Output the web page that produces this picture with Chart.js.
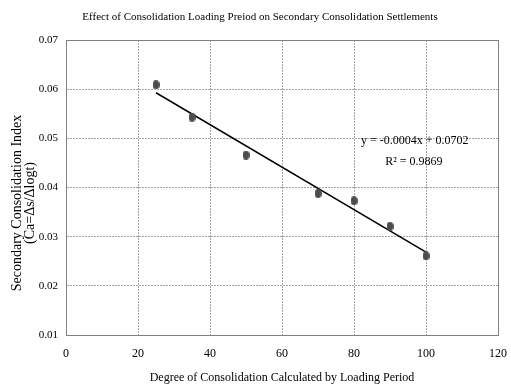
<!DOCTYPE html>
<html>
<head>
<meta charset="utf-8">
<script src="https://cdn.jsdelivr.net/npm/chart.js@4/dist/chart.umd.min.js"></script>
<style>
  html, body { margin: 0; padding: 0; background: #fff; }
  #wrap { width: 511px; height: 385px; }
</style>
</head>
<body>
<div id="wrap"><canvas id="settleChart"></canvas></div>
<script>
// degree of consolidation (%) and measured Ca
const degree = [25, 35, 50, 70, 80, 90, 100];
const caIndex = [0.0609, 0.0543, 0.0466, 0.0388, 0.0373, 0.0321, 0.0261];
const eqLines = ["y = -0.0004x + 0.0702", "R\u00b2 = 0.9869"];
const yTitle = ["Secondary Consolidation Index", "(Ca=\u0394s/\u0394logt)"];

const FONT = "'Liberation Serif', 'Times New Roman', serif";
const GRID = "#a6a6a6";

// least squares line through the measured points
function linearFit(xs, ys) {
    const n = xs.length;
    const mx = xs.reduce((a, b) => a + b, 0) / n;
    const my = ys.reduce((a, b) => a + b, 0) / n;
    let sxy = 0, sxx = 0;
    for (let i = 0; i < n; i++) {
        sxy += (xs[i] - mx) * (ys[i] - my);
        sxx += (xs[i] - mx) * (xs[i] - mx);
    }
    const slope = sxy / sxx;
    return { slope: slope, icpt: my - slope * mx };
}
const fit = linearFit(degree, caIndex);
const xMin = Math.min(...degree), xMax = Math.max(...degree);
const trend = [xMin, xMax].map((x) => ({ x: x, y: fit.icpt + fit.slope * x }));

// slightly tall oval marker
function ovalMarker(w, h, color) {
    const c = document.createElement("canvas");
    c.width = w;
    c.height = h;
    const g = c.getContext("2d");
    g.fillStyle = color;
    g.beginPath();
    g.ellipse(w / 2, h / 2, w / 2, h / 2, 0, 0, Math.PI * 2);
    g.fill();
    return c;
}
const marker = ovalMarker(7, 9, "#4d4d4d");

const framePlugin = {
    id: "frame",
    afterDraw(chart) {
        const { ctx, chartArea: a, scales } = chart;
        ctx.save();
        ctx.strokeStyle = "#808080";
        ctx.lineWidth = 1;
        ctx.strokeRect(a.left + 0.5, a.top + 0.5, a.right - a.left, a.bottom - a.top);

        // chart title
        ctx.fillStyle = "#000";
        ctx.font = "11px " + FONT;
        ctx.textAlign = "center";
        ctx.textBaseline = "middle";
        ctx.fillText("Effect of Consolidation Loading Preiod on Secondary Consolidation Settlements", 260, 17);

        // y axis title, two rotated lines
        ctx.save();
        ctx.translate(17, 203);
        ctx.rotate(-Math.PI / 2);
        ctx.font = "14px " + FONT;
        ctx.fillText(yTitle[0], 0, 0);
        ctx.fillText(yTitle[1], 0, 13);
        ctx.restore();

        // regression equation
        ctx.font = "12px " + FONT;
        const ex = scales.x.getPixelForValue(96.9);
        const ey = scales.y.getPixelForValue(0.0495);
        ctx.fillText(eqLines[0], ex, ey);
        ctx.fillText(eqLines[1], ex - 1, ey + 21);
        ctx.restore();
    }
};

const ctx = document.getElementById("settleChart");
new Chart(ctx, {
    type: "scatter",
    data: {
        datasets: [
            {
                label: "Ca",
                data: degree.map((d, i) => ({ x: d, y: caIndex[i] })),
                pointStyle: marker,
                pointRadius: 4,
                backgroundColor: "#4d4d4d",
            },
            {
                label: "Linear",
                type: "line",
                data: trend,
                borderColor: "#000",
                borderWidth: 1.5,
                pointRadius: 0,
                fill: false,
            },
        ],
    },
    options: {
        responsive: true,
        maintainAspectRatio: false,
        animation: false,
        layout: { padding: { top: 40, right: 13, left: 0, bottom: 0 } },
        scales: {
            x: {
                min: 0,
                max: 120,
                ticks: { stepSize: 20, color: "#000", font: { family: FONT, size: 12 }, padding: 12, maxRotation: 0 },
                grid: { color: GRID, drawTicks: false },
                border: { color: "#808080", dash: [2, 1] },
                title: {
                    display: true,
                    text: "Degree of Consolidation Calculated by Loading Period",
                    color: "#000",
                    font: { family: FONT, size: 12 },
                    padding: { top: 0, bottom: 0 },
                },
                afterFit(scale) {
                    scale.height = 50;
                    scale.paddingLeft = 0;
                    scale.paddingRight = 0;
                },
            },
            y: {
                min: 0.01,
                max: 0.07,
                ticks: { stepSize: 0.01, color: "#000", font: { family: FONT, size: 11 }, padding: 8,
                         callback: (v) => v.toFixed(2) },
                grid: { color: GRID, drawTicks: false },
                border: { color: "#808080", dash: [2, 1] },
                afterFit(scale) {
                    scale.width = 66;
                    scale.paddingTop = 0;
                    scale.paddingBottom = 0;
                },
            },
        },
        plugins: {
            legend: { display: false },
            tooltip: { enabled: false },
            title: { display: false },
        },
    },
    plugins: [framePlugin],
});
</script>
</body>
</html>
